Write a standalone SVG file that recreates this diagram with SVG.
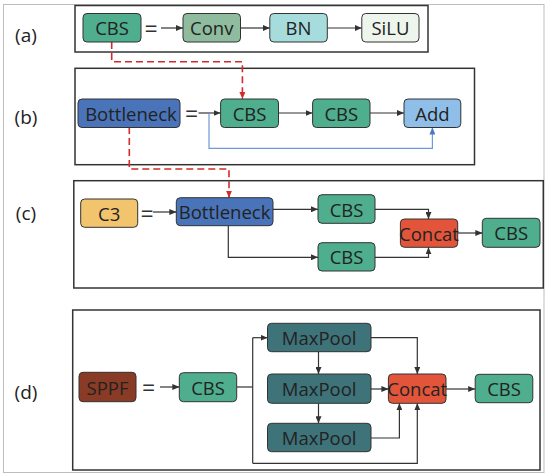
<svg xmlns="http://www.w3.org/2000/svg" width="550" height="476" viewBox="0 0 550 476">
<style>
.panel{fill:none;stroke:#333;stroke-width:1.5}
.node rect{stroke:#333;stroke-width:1}
.t{font-family:"Open Sans","Noto Sans",sans-serif;font-size:18.5px;fill:#222;text-anchor:middle;dominant-baseline:central}
.lbl{font-family:"Open Sans","Noto Sans",sans-serif;font-size:19px;fill:#222;text-anchor:middle;dominant-baseline:central}
.eq{font-family:"Open Sans","Noto Sans",sans-serif;font-size:23px;fill:#333;text-anchor:middle;dominant-baseline:central}
.c{fill:none;stroke:#333;stroke-width:1.2}
.r{fill:none;stroke:#d42a2a;stroke-width:1.6;stroke-dasharray:7,4}
.b{fill:none;stroke:#6f9ad6;stroke-width:1.2}
.cbs{fill:#4eae8d}
</style>
<defs>
<marker id="ah" markerWidth="7" markerHeight="6" refX="7" refY="3" orient="auto" markerUnits="userSpaceOnUse"><path d="M0,0 L7,3 L0,6 z" fill="#333"/></marker>
<marker id="ar" markerWidth="7" markerHeight="6" refX="7" refY="3" orient="auto" markerUnits="userSpaceOnUse"><path d="M0,0 L7,3 L0,6 z" fill="#d42a2a"/></marker>
<marker id="ab" markerWidth="7" markerHeight="6" refX="7" refY="3" orient="auto" markerUnits="userSpaceOnUse"><path d="M0,0 L7,3 L0,6 z" fill="#4a78c8"/></marker>
</defs>
<rect x="0" y="0" width="550" height="476" fill="#fff"/>
<rect x="3.5" y="4.5" width="540.5" height="468" fill="none" stroke="#bdbdbd" stroke-width="1"/>

<g id="panels">
<rect class="panel" x="75" y="5.5" width="353" height="46.5"/>
<rect class="panel" x="75" y="68.3" width="399.5" height="96.4"/>
<rect class="panel" x="73.8" y="180.7" width="469.5" height="107.3"/>
<rect class="panel" x="72.7" y="310" width="467.3" height="160"/>
</g>

<g id="labels">
<text class="lbl" x="26" y="35">(a)</text>
<text class="lbl" x="26" y="117">(b)</text>
<text class="lbl" x="26" y="213">(c)</text>
<text class="lbl" x="26" y="392">(d)</text>
<text class="eq" x="151" y="28">=</text>
<text class="eq" x="191.5" y="113">=</text>
<text class="eq" x="147" y="213">=</text>
<text class="eq" x="148.5" y="387">=</text>
</g>

<g id="connectors">
<path class="c" d="M161,28 H183" marker-end="url(#ah)"/>
<path class="c" d="M240.5,28 H269.8" marker-end="url(#ah)"/>
<path class="c" d="M327.3,28 H361.8" marker-end="url(#ah)"/>
<path class="c" d="M198.5,113 H220.6" marker-end="url(#ah)"/>
<path class="c" d="M278.5,113 H312.6" marker-end="url(#ah)"/>
<path class="c" d="M370,113 H404" marker-end="url(#ah)"/>
<path class="b" d="M209,113 V148.3 H432.4 V127.5" marker-end="url(#ab)"/>
<path class="r" d="M111.7,42 V61.7 H242.4 V99" marker-end="url(#ar)"/>
<path class="r" d="M129.3,127 V169 H229 V197.7" marker-end="url(#ar)"/>
<path class="c" d="M153,212 H176.3" marker-end="url(#ah)"/>
<path class="c" d="M273,209.3 H318" marker-end="url(#ah)"/>
<path class="c" d="M228.3,225.7 V257.3 H318" marker-end="url(#ah)"/>
<path class="c" d="M375,209.3 H428.5 V219" marker-end="url(#ah)"/>
<path class="c" d="M375,257.3 H428.5 V247.3" marker-end="url(#ah)"/>
<path class="c" d="M457.7,233 H482.3" marker-end="url(#ah)"/>
<path class="c" d="M160,387 H179.3" marker-end="url(#ah)"/>
<path class="c" d="M236.7,387 H252.7"/>
<path class="c" d="M252.7,337.7 V463.3"/>
<path class="c" d="M252.7,337.7 H267.5" marker-end="url(#ah)"/>
<path class="c" d="M252.7,463.3 H417.3 V403.3" marker-end="url(#ah)"/>
<path class="c" d="M318.5,351.7 V374" marker-end="url(#ah)"/>
<path class="c" d="M318.5,403.3 V423.3" marker-end="url(#ah)"/>
<path class="c" d="M371,337.7 H417.3 V374" marker-end="url(#ah)"/>
<path class="c" d="M371,389 H388.4" marker-end="url(#ah)"/>
<path class="c" d="M371,438 H399.4 V403.3" marker-end="url(#ah)"/>
<path class="c" d="M446,389 H475.2" marker-end="url(#ah)"/>
</g>

<g id="a-cbs" class="node"><rect class="cbs" x="83" y="13.5" width="58" height="28.5" rx="4"/><text class="t" x="112" y="27.7">CBS</text></g>
<g id="a-conv" class="node"><rect x="183" y="13.5" width="57.5" height="28.5" rx="4" fill="#8fbc9e"/><text class="t" x="211.7" y="27.7">Conv</text></g>
<g id="a-bn" class="node"><rect x="269.8" y="13.5" width="57.5" height="28.5" rx="4" fill="#a7dcdc"/><text class="t" x="298.5" y="27.7">BN</text></g>
<g id="a-silu" class="node"><rect x="361.8" y="13.5" width="57.2" height="28.5" rx="4" fill="#eef5ec"/><text class="t" x="390.4" y="27.7">SiLU</text></g>

<g id="b-bottleneck" class="node"><rect x="78" y="99" width="102" height="28.5" rx="4" fill="#4a74b9"/><text class="t" x="131" y="113.2">Bottleneck</text></g>
<g id="b-cbs1" class="node"><rect class="cbs" x="220.6" y="99" width="57.9" height="28.5" rx="4"/><text class="t" x="249.5" y="113.2">CBS</text></g>
<g id="b-cbs2" class="node"><rect class="cbs" x="312.6" y="99" width="57.4" height="28.5" rx="4"/><text class="t" x="341.3" y="113.2">CBS</text></g>
<g id="b-add" class="node"><rect x="404" y="99" width="56.8" height="28.5" rx="4" fill="#8fbfe8"/><text class="t" x="432.4" y="113.2">Add</text></g>

<g id="c-c3" class="node"><rect x="80.7" y="199" width="57" height="28.3" rx="4" fill="#f3c46e"/><text class="t" x="109.2" y="213.1">C3</text></g>
<g id="c-bottleneck" class="node"><rect x="176.3" y="197.7" width="96.7" height="28" rx="4" fill="#4a74b9"/><text class="t" x="224.6" y="211.6">Bottleneck</text></g>
<g id="c-cbs1" class="node"><rect class="cbs" x="318" y="194.7" width="57" height="28.6" rx="4"/><text class="t" x="346.5" y="209">CBS</text></g>
<g id="c-cbs2" class="node"><rect class="cbs" x="318" y="242.7" width="57" height="28.3" rx="4"/><text class="t" x="346.5" y="256.8">CBS</text></g>
<g id="c-concat" class="node"><rect x="400.4" y="219" width="57.3" height="28.3" rx="4" fill="#e2553a"/><text class="t" x="429" y="233.1">Concat</text></g>
<g id="c-cbs3" class="node"><rect class="cbs" x="482.3" y="218.3" width="57.7" height="29" rx="4"/><text class="t" x="511.2" y="232.8">CBS</text></g>

<g id="d-sppf" class="node"><rect x="79" y="372.3" width="57" height="29.4" rx="4" fill="#8a3b25"/><text class="t" x="107.5" y="387">SPPF</text></g>
<g id="d-cbs" class="node"><rect class="cbs" x="179.3" y="372.7" width="57.4" height="29" rx="4"/><text class="t" x="208" y="387.2">CBS</text></g>
<g id="d-mp1" class="node"><rect x="267.5" y="323.3" width="103.5" height="28.4" rx="4" fill="#3e737a"/><text class="t" x="319.2" y="337.5">MaxPool</text></g>
<g id="d-mp2" class="node"><rect x="267.5" y="374" width="103.5" height="29.3" rx="4" fill="#3e737a"/><text class="t" x="319.2" y="388.6">MaxPool</text></g>
<g id="d-mp3" class="node"><rect x="267.5" y="423.3" width="103.5" height="28.4" rx="4" fill="#3e737a"/><text class="t" x="319.2" y="437.5">MaxPool</text></g>
<g id="d-concat" class="node"><rect x="388.4" y="374" width="57.6" height="29.3" rx="4" fill="#e2553a"/><text class="t" x="417.2" y="388.6">Concat</text></g>
<g id="d-cbs2" class="node"><rect class="cbs" x="475.2" y="374.3" width="57.6" height="28.4" rx="4"/><text class="t" x="504" y="388.5">CBS</text></g>
</svg>
